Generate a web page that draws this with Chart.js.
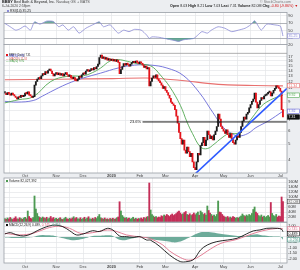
<!DOCTYPE html>
<html>
<head>
<meta charset="utf-8">
<script src="https://cdn.jsdelivr.net/npm/chart.js@4.4.1/dist/chart.umd.min.js"></script>
<style>
  html, body { margin: 0; padding: 0; }
  body {
    width: 300px; height: 270px; position: relative; overflow: hidden;
    background: #eceef1; font-family: 'Liberation Sans', Arial, sans-serif;
  }
  canvas { position: absolute; left: 0; top: 0; }
  .txt { position: absolute; white-space: nowrap; line-height: 1; color: #222; }
  .ico { display: inline-block; width: 2px; height: 2px; margin-right: 1px; vertical-align: middle; }
</style>
</head>
<body>
<canvas id="rsiChart" width="300" height="270"></canvas>
<canvas id="priceChart" width="300" height="270"></canvas>
<canvas id="volumeChart" width="300" height="270"></canvas>
<canvas id="macdChart" width="300" height="270"></canvas>

<div class="txt" style="left:2px;top:0.8px;font-size:3.8px"><b>BBBY</b> Bed Bath &amp; Beyond, Inc. <span style="color:#555">Nasdaq GS + BATS</span></div>
<div class="txt" style="right:9px;top:1.4px;font-size:3.6px;color:#777">&copy; StockCharts.com</div>
<div class="txt" style="left:2px;top:5px;font-size:3.4px;color:#444">6-Jul-2020 2:58pm</div>
<div class="txt" style="right:2px;top:5.2px;font-size:3.6px"><b>Open</b> 8.03 <b>High</b> 8.21 <b>Low</b> 7.03 <b>Last</b> 7.31 <b>Volume</b> 82.0M <b>Chg</b> <span style="color:#d01818">-0.80 (-9.86%) &#9660;</span></div>
<div class="txt" style="left:7px;top:9.6px;font-size:3.4px"><span class="ico" style="background:#8a8ad6"></span>RSI(14) 35.25</div>

<div class="txt" style="left:6px;top:53.6px;font-size:2.7px"><span class="ico" style="background:#e3141b"></span>BBBY (Daily) 7.31</div>
<div class="txt" style="left:6px;top:56.2px;font-size:2.7px;color:#5a5ad0">&#8212; MA(50) 7.92</div>
<div class="txt" style="left:6px;top:58.8px;font-size:2.7px;color:#e05a5a">&#8212; MA(200) 11.34</div>
<div class="txt" style="left:6px;top:61.4px;font-size:2.7px;color:#3f9a3f">&#8212; MA(20) 9.92</div>

<div class="txt" style="left:6px;top:179.6px;font-size:3.2px"><span class="ico" style="background:#4d9a52"></span>Volume 82,027,392</div>
<div class="txt" style="left:6px;top:223.6px;font-size:3.2px"><span class="ico" style="background:#111"></span>MACD(12,26,9) 0.489, <span style="color:#e0607a">0.745</span>, <span style="color:#4f9a88">-0.256</span></div>

<script>
// trading day index 0 = ~10 Sep 2019, 206 = 6 Jul 2020
const monthTicks = [15, 38, 58, 79, 100, 119, 141, 162, 182, 204];
const monthLabels = ['Oct', 'Nov', 'Dec', '2020', 'Feb', 'Mar', 'Apr', 'May', 'Jun', 'Jul'];

const closes = [
  10.2, 10.0, 10.3, 10.1, 9.9, 10.2, 10.0, 9.8, 9.6, 9.4,
  9.7, 9.6, 9.9, 9.7, 9.8, 10.2, 10.1, 10.4, 9.9, 9.8,
  9.6, 9.7, 11.4, 12.0, 12.4, 12.7, 12.5, 13.0, 13.4, 13.2,
  13.8, 13.5, 14.0, 14.3, 13.9, 13.4, 13.0, 13.3, 13.6, 13.2,
  13.5, 13.1, 13.4, 13.0, 13.3, 13.6, 13.2, 12.9, 13.1, 12.6,
  12.5, 12.7, 12.2, 12.1, 12.4, 12.9, 12.7, 13.2, 13.5, 13.3,
  13.9, 14.2, 13.8, 14.0, 14.4, 14.1, 14.6, 14.3, 14.8, 15.3,
  16.8, 17.4, 16.6, 16.9, 16.4, 16.7, 16.2, 16.5, 16.1, 16.4,
  16.0, 16.3, 15.9, 16.2, 15.7, 13.4, 14.2, 14.8, 15.4, 15.1,
  15.5, 15.2, 14.9, 15.3, 15.6, 15.9, 15.6, 16.0, 15.7, 15.4,
  15.8, 15.5, 15.1, 14.6, 14.9, 14.3, 14.6, 11.3, 12.0, 12.6,
  13.0, 12.7, 13.2, 12.4, 12.1, 11.8, 11.4, 10.9, 11.2, 10.6,
  10.3, 9.9, 9.5, 9.0, 8.8, 8.6, 8.1, 7.4, 6.7, 5.9,
  5.4, 5.0, 5.3, 4.6, 4.4, 4.8, 4.5, 4.2, 4.4, 3.9,
  3.6, 3.5, 3.9, 4.4, 4.3, 4.9, 5.1, 5.5, 4.9, 5.3,
  6.0, 5.7, 5.4, 5.6, 5.3, 5.7, 6.0, 6.4, 7.6, 7.1,
  6.4, 6.2, 6.0, 5.8, 6.1, 5.7, 5.5, 5.8, 5.4, 5.1,
  5.0, 5.3, 5.6, 5.5, 5.9, 6.4, 6.9, 7.3, 7.1, 7.6,
  7.8, 8.3, 8.7, 9.1, 9.4, 10.2, 9.0, 8.3, 8.7, 9.2,
  9.6, 9.4, 9.8, 9.9, 10.1, 10.3, 10.4, 9.8, 10.2, 10.6,
  10.9, 11.3, 11.1, 10.9, 10.5, 8.11, 7.31,
];

// volume in millions
const volumes = [
  14, 11, 16, 12, 18, 13, 10, 15, 21, 13,
  12, 17, 14, 11, 16, 19, 13, 44, 22, 15,
  13, 18, 104, 52, 34, 22, 18, 15, 20, 17,
  14, 19, 13, 16, 22, 14, 18, 12, 15, 11,
  14, 17, 12, 10, 14, 19, 13, 11, 15, 12,
  16, 21, 14, 18, 13, 12, 17, 11, 14, 19,
  12, 16, 21, 13, 11, 15, 12, 18, 14, 22,
  30, 17, 14, 12, 16, 11, 13, 10, 14, 12,
  15, 11, 13, 17, 20, 81, 44, 26, 20, 15,
  18, 13, 16, 12, 14, 19, 12, 15, 11, 14,
  13, 16, 12, 18, 14, 20, 22, 156, 48, 30,
  24, 19, 22, 17, 20, 18, 25, 22, 28, 24,
  30, 26, 22, 28, 32, 26, 30, 34, 40, 44,
  36, 30, 33, 38, 42, 30, 28, 33, 26, 30,
  36, 29, 34, 40, 27, 44, 38, 30, 34, 28,
  64, 46, 36, 30, 24, 28, 22, 30, 84, 40,
  38, 30, 24, 20, 18, 22, 17, 20, 16, 22,
  19, 15, 18, 16, 20, 24, 32, 26, 22, 28,
  24, 30, 26, 34, 50, 60, 40, 34, 26, 22,
  28, 20, 24, 18, 22, 26, 20, 78, 34, 26,
  22, 30, 20, 24, 22, 100, 82,
];

const ma200Days = [0, 40, 80, 105, 120, 135, 150, 165, 185, 206];
const ma200 = [12.3, 12.4, 12.5, 12.6, 12.4, 12.1, 11.7, 11.45, 11.35, 11.3];
const ma50Days = [0, 9, 21, 28, 34, 46, 58, 71, 84, 96, 108, 120, 132, 144, 154, 162, 168, 173, 180, 186, 195, 206];
const ma50 = [9.1, 9.0, 9.2, 9.8, 10.4, 11.6, 12.6, 13.5, 14.5, 15.1, 15.1, 14.5, 13.1, 10.3, 7.8, 6.3, 5.8, 5.6, 5.8, 6.3, 6.9, 7.92];
const ma20Days = [0, 10, 21, 34, 46, 58, 65, 71, 78, 84, 91, 98, 106, 110, 115, 122, 130, 135, 139, 145, 150, 155, 160, 166, 172, 176, 183, 190, 197, 206];
const ma20 = [8.9, 9.3, 9.7, 12.0, 12.9, 13.0, 13.6, 14.5, 16.0, 16.3, 15.9, 15.4, 15.1, 14.6, 13.2, 11.2, 8.6, 6.8, 5.8, 4.8, 4.7, 5.0, 5.4, 5.8, 5.8, 6.1, 7.2, 8.5, 9.3, 9.92];

const trendDays = [141, 209];
const trendValues = [3.3, 10.9];
const fibHighDays = [71, 209];
const fibHighLevel = 17.8;
const fib236Days = [102, 209];
const fib236Level = 6.82;
const fibMarkDay = 158;

const rsiDays = [0, 4, 8, 11, 15, 19, 22, 26, 31, 36, 40, 43, 47, 51, 55, 60, 65, 70, 73, 78, 84, 88, 92, 96, 101, 105, 107, 109, 114, 118, 122, 126, 129, 132, 136, 140, 143, 146, 150, 153, 158, 163, 168, 173, 178, 182, 185, 188, 190, 194, 200, 204, 205, 206];
const rsiValues = [69, 60, 51, 54, 62, 51, 73, 67, 75, 74, 60, 65, 51, 60, 43, 56, 65, 73, 60, 65, 43, 51, 47, 53, 51, 38, 29, 33, 32, 29, 26, 23, 21, 25, 27, 29, 38, 47, 43, 51, 60, 56, 47, 51, 56, 65, 76, 60, 51, 67, 65, 62, 52, 35.25];

const macdDays = [0, 4, 9, 14, 19, 24, 31, 37, 43, 48, 53, 58, 65, 70, 76, 80, 85, 90, 95, 100, 105, 108, 115, 122, 130, 135, 140, 145, 150, 157, 165, 172, 179, 184, 189, 194, 202, 205, 206];
const macdValues = [0.28, 0.4, 0.19, 0.09, 0.25, 0.58, 0.95, 1.1, 0.95, 0.58, 0.19, 0.28, 0.58, 0.5, 0.8, 0.65, 0.09, 0.03, -0.03, 0.03, -0.28, -0.3, -0.9, -1.67, -2.28, -2.28, -2.07, -1.2, -0.74, -0.43, -0.28, -0.12, 0.28, 0.56, 0.65, 0.8, 0.8, 0.71, 0.489];
const signalDays = [0, 11, 21, 31, 40, 48, 56, 65, 76, 83, 90, 102, 107, 117, 122, 130, 136, 142, 150, 160, 172, 181, 191, 202, 206];
const signalValues = [0.34, 0.19, 0.34, 0.8, 1.0, 0.8, 0.34, 0.4, 0.65, 0.5, 0.19, -0.03, -0.12, -0.74, -1.3, -1.9, -2.15, -1.95, -1.3, -0.59, -0.22, 0.19, 0.58, 0.8, 0.745];
const histDays = [0, 5, 11, 17, 21, 24, 28, 32, 37, 41, 46, 51, 55, 60, 65, 71, 76, 80, 84, 88, 92, 96, 101, 105, 108, 114, 120, 125, 129, 134, 138, 142, 146, 151, 157, 162, 168, 174, 179, 183, 187, 190, 195, 200, 204, 206];
const histValues = [-0.06, -0.1, -0.1, -0.05, 0, 0.12, 0.18, 0.15, 0.1, -0.05, -0.2, -0.3, -0.25, -0.1, 0.1, 0.12, 0.15, 0.1, -0.2, -0.3, -0.2, -0.1, 0, -0.1, -0.2, -0.3, -0.4, -0.5, -0.45, -0.2, 0.05, 0.3, 0.45, 0.45, 0.35, 0.25, 0.15, 0.08, 0.12, 0.2, 0.25, 0.15, 0.1, 0.05, 0.02, -0.256];

const priceTicks = [20, 17, 16, 15, 14, 13, 12, 11, 10, 9, 8, 7, 6, 5, 4];
const rsiTicks = [90, 70, 50, 30];
const volumeTicks = [160, 140, 120, 100, 80, 60, 40, 20];
const macdTicks = [1, 0.5, 0, -0.5, -1, -1.5, -2];

const palette = {
  up: '#1a1a1a',
  down: '#e3141b',
  volUp: '#4d9a52',
  volDown: '#c42d57',
  ma200: '#e8706f',
  ma50: '#6a6ad8',
  ma20: '#52a852',
  trend: '#2f5bff',
  rsi: '#8a8ad6',
  teal: 'rgba(84,156,136,0.85)',
  macd: '#111',
  signal: '#e0708a',
  grid: '#e4e5e8',
  frame: '#9a9ea6',
  text: '#333',
};
const FONT = "'Liberation Sans', Arial, sans-serif";

Chart.defaults.font.family = FONT;
Chart.defaults.font.size = 4;
Chart.defaults.color = palette.text;
Chart.defaults.animation = false;
Chart.defaults.plugins.legend.display = false;
Chart.defaults.plugins.tooltip.enabled = false;

const pts = (days, vals) => days.map((d, k) => ({ x: d, y: vals[k] }));
const isDown = closes.map((c, i) => i > 0 && c < closes[i - 1]);

const panelFrame = {
  id: 'panelFrame',
  beforeDraw(chart) {
    const { ctx, chartArea: a } = chart;
    ctx.save();
    ctx.fillStyle = '#fff';
    ctx.fillRect(a.left, a.top, a.width, a.height);
    ctx.restore();
  },
  afterDraw(chart) {
    const { ctx, chartArea: a } = chart;
    ctx.save();
    ctx.strokeStyle = palette.frame;
    ctx.lineWidth = 0.8;
    ctx.strokeRect(a.left, a.top, a.width, a.height);
    ctx.restore();
  },
};

function axisBoxes(boxes) {
  return {
    id: 'axisBoxes',
    afterDraw(chart) {
      const { ctx, chartArea, scales } = chart;
      const placed = boxes
        .map((box) => ({ ...box, py: scales.y.getPixelForValue(box.value) }))
        .sort((a, b) => a.py - b.py);
      for (let k = 1; k < placed.length; k += 1) {
        placed[k].py = Math.max(placed[k].py, placed[k - 1].py + 4.8);
      }
      ctx.save();
      ctx.font = `3.5px ${FONT}`;
      ctx.textBaseline = 'middle';
      placed.forEach((box) => {
        const left = chartArea.right + 0.6;
        ctx.fillStyle = box.fill || '#fff';
        ctx.fillRect(left, box.py - 2.2, 11.8, 4.4);
        ctx.strokeStyle = box.color;
        ctx.lineWidth = 0.6;
        ctx.strokeRect(left, box.py - 2.2, 11.8, 4.4);
        ctx.fillStyle = box.textColor || box.color;
        ctx.fillText(box.text, left + 1, box.py + 0.2);
      });
      ctx.restore();
    },
  };
}

const fibLabel = {
  id: 'fibLabel',
  afterDatasetsDraw(chart) {
    const { ctx, scales } = chart;
    ctx.save();
    ctx.font = `4px ${FONT}`;
    ctx.fillStyle = '#222';
    ctx.textAlign = 'right';
    ctx.textBaseline = 'middle';
    ctx.fillText('23.6%', scales.x.getPixelForValue(fib236Days[0]) - 1.5, scales.y.getPixelForValue(fib236Level));
    ctx.restore();
  },
};

function dayAxis(showLabels, labelHeight, labelPadding) {
  return {
    type: 'linear',
    min: -0.6,
    max: 209,
    bounds: 'data',
    offset: false,
    afterBuildTicks(scale) {
      scale.ticks = monthTicks.map((value) => ({ value }));
    },
    afterFit(scale) {
      scale.height = labelHeight;
    },
    ticks: {
      display: showLabels,
      autoSkip: false,
      maxRotation: 0,
      padding: labelPadding,
      color: '#444',
      callback: (value, index) => monthLabels[index],
      font: (ctx) => ({ size: 4, weight: ctx.tick && ctx.tick.value === 79 ? 'bold' : 'normal' }),
    },
    grid: { color: palette.grid, lineWidth: 0.7, drawTicks: false },
    border: { display: false },
  };
}

function valueAxis(type, min, max, ticks, format, gridColor) {
  return {
    type,
    position: 'right',
    min,
    max,
    bounds: 'data',
    afterBuildTicks(scale) {
      scale.ticks = ticks.map((value) => ({ value }));
    },
    afterFit(scale) {
      scale.width = 13;
    },
    ticks: { autoSkip: false, padding: 1.3, callback: format, font: { size: 3.8 } },
    grid: { color: gridColor || palette.grid, lineWidth: 0.7, drawTicks: false },
    border: { display: false },
  };
}

function baseOptions(top, bottom, x, y) {
  return {
    responsive: false,
    devicePixelRatio: 1,
    layout: { padding: { left: 4, right: 0, top, bottom } },
    scales: { x, y },
  };
}

// RSI panel
new Chart(document.getElementById('rsiChart'), {
  type: 'line',
  data: {
    datasets: [
      {
        data: pts(rsiDays, rsiValues),
        borderColor: palette.rsi,
        borderWidth: 0.8,
        pointRadius: 0,
        tension: 0.2,
        fill: false,
      },
      {
        data: pts(rsiDays, rsiValues),
        borderWidth: 0,
        borderColor: 'rgba(0,0,0,0)',
        pointRadius: 0,
        tension: 0.2,
        fill: { target: { value: 70 }, above: palette.teal, below: 'rgba(0,0,0,0)' },
      },
      {
        data: pts(rsiDays, rsiValues),
        borderWidth: 0,
        borderColor: 'rgba(0,0,0,0)',
        pointRadius: 0,
        tension: 0.2,
        fill: { target: { value: 30 }, above: 'rgba(0,0,0,0)', below: palette.teal },
      },
    ],
  },
  options: baseOptions(
    12.5,
    225.5,
    dayAxis(false, 0, 0),
    valueAxis('linear', 12.7, 98, rsiTicks, (v) => String(v), (ctx) => (
      ctx.tick && (ctx.tick.value === 70 || ctx.tick.value === 30) ? '#8f939b' : palette.grid
    )),
  ),
  plugins: [panelFrame, axisBoxes([{ value: 35.25, text: '35.25', color: palette.rsi }])],
});

// price panel
new Chart(document.getElementById('priceChart'), {
  type: 'bar',
  data: {
    datasets: [
      {
        type: 'line',
        data: pts(trendDays, trendValues),
        borderColor: palette.trend,
        borderWidth: 1.6,
        pointRadius: 0,
      },
      {
        type: 'line',
        data: [{ x: fibMarkDay, y: fib236Level }],
        pointRadius: 1.4,
        pointBackgroundColor: '#222',
        pointBorderWidth: 0,
        showLine: false,
      },
      {
        type: 'line',
        data: fib236Days.map((d) => ({ x: d, y: fib236Level })),
        borderColor: '#1a1a1a',
        borderWidth: 1,
        pointRadius: 0,
      },
      {
        type: 'line',
        data: fibHighDays.map((d) => ({ x: d, y: fibHighLevel })),
        borderColor: '#9a9a9a',
        borderWidth: 0.8,
        pointRadius: 0,
      },
      {
        data: closes.map((c, i) => ({ x: i, y: [i > 0 ? closes[i - 1] : c, c] })),
        backgroundColor: closes.map((c, i) => (isDown[i] ? palette.down : palette.up)),
        barThickness: 1.2,
        minBarLength: 1.5,
        borderWidth: 0,
      },
      {
        type: 'line',
        data: pts(ma20Days, ma20),
        borderColor: palette.ma20,
        borderWidth: 0.9,
        pointRadius: 0,
        tension: 0.4,
      },
      {
        type: 'line',
        data: pts(ma50Days, ma50),
        borderColor: palette.ma50,
        borderWidth: 0.9,
        pointRadius: 0,
        tension: 0.4,
      },
      {
        type: 'line',
        data: pts(ma200Days, ma200),
        borderColor: palette.ma200,
        borderWidth: 1.1,
        pointRadius: 0,
        tension: 0.4,
      },
    ],
  },
  options: baseOptions(
    44.5,
    92,
    dayAxis(true, 5, 0.6),
    valueAxis('logarithmic', 3.34, 20.14, priceTicks, (v) => String(v)),
  ),
  plugins: [
    panelFrame,
    fibLabel,
    axisBoxes([
      { value: 11.34, text: '11.34', color: palette.ma200 },
      { value: 9.92, text: '9.92', color: palette.ma20 },
      { value: 7.92, text: '7.92', color: palette.ma50 },
      { value: 7.31, text: '7.31', color: '#000', fill: '#111', textColor: '#fff' },
    ]),
  ],
});

// volume panel
new Chart(document.getElementById('volumeChart'), {
  type: 'bar',
  data: {
    datasets: [
      {
        data: volumes.map((v, i) => ({ x: i, y: v })),
        backgroundColor: volumes.map((v, i) => (isDown[i] ? palette.volDown : palette.volUp)),
        barThickness: 1.2,
        borderWidth: 0,
      },
    ],
  },
  options: baseOptions(
    178,
    48,
    dayAxis(false, 0, 0),
    valueAxis('linear', 0, 176, volumeTicks, (v) => `${v}M`),
  ),
  plugins: [panelFrame, axisBoxes([{ value: 82, text: '82.0M', color: '#555' }])],
});

// MACD panel
new Chart(document.getElementById('macdChart'), {
  type: 'line',
  data: {
    datasets: [
      {
        data: pts(macdDays, macdValues),
        borderColor: palette.macd,
        borderWidth: 0.9,
        pointRadius: 0,
        tension: 0.35,
      },
      {
        data: pts(signalDays, signalValues),
        borderColor: palette.signal,
        borderWidth: 0.9,
        pointRadius: 0,
        tension: 0.35,
      },
      {
        data: pts(histDays, histValues),
        borderWidth: 0,
        borderColor: 'rgba(0,0,0,0)',
        pointRadius: 0,
        tension: 0.3,
        fill: { target: 'origin', above: palette.teal, below: palette.teal },
      },
    ],
  },
  options: baseOptions(
    222.5,
    0,
    dayAxis(true, 7, 1.5),
    valueAxis('linear', -2.41, 1.34, macdTicks, (v) => v.toFixed(2)),
  ),
  plugins: [
    panelFrame,
    axisBoxes([
      { value: 0.745, text: '0.745', color: palette.signal },
      { value: 0.489, text: '0.489', color: '#111' },
      { value: -0.256, text: '-0.256', color: '#4f9a88' },
    ]),
  ],
});
</script>
</body>
</html>
